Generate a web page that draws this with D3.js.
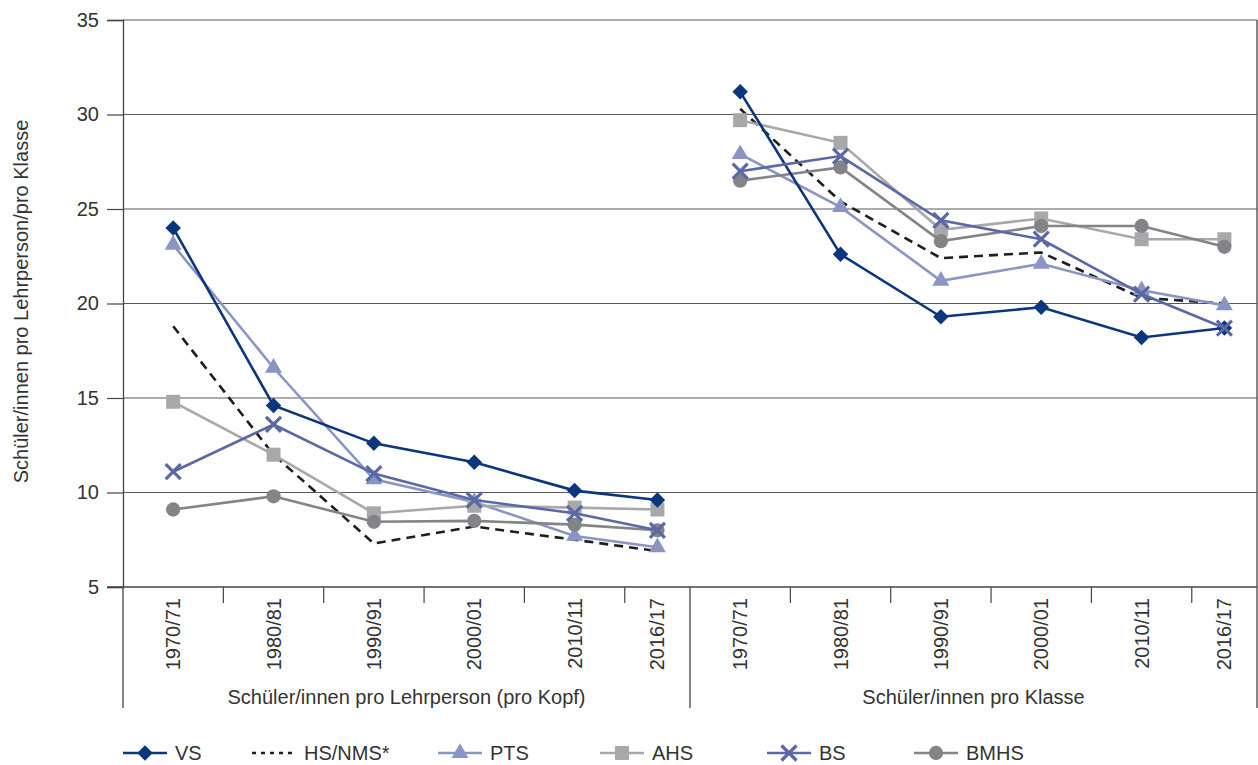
<!DOCTYPE html>
<html>
<head>
<meta charset="utf-8">
<script src="https://cdn.jsdelivr.net/npm/d3@7"></script>
<style>
  body { margin: 0; background: #fff; }
  text { font-family: "Liberation Sans", Arial, sans-serif; fill: #333; }
</style>
</head>
<body>
<div id="chart"></div>
<script>
// categories and groups
const categories = ["1970/71", "1980/81", "1990/91", "2000/01", "2010/11", "2016/17"];
const groups = ["Schüler/innen pro Lehrperson (pro Kopf)", "Schüler/innen pro Klasse"];
const yTicks = [5, 10, 15, 20, 25, 30, 35];

// values: first 6 = per teacher, last 6 = per class
const VS   = [24.0, 14.6, 12.6, 11.6, 10.1, 9.6,  31.2, 22.6, 19.3, 19.8, 18.2, 18.7];
const HS   = [18.8, 12.0, 7.3, 8.2, 7.5, 6.9,     30.3, 25.4, 22.4, 22.7, 20.3, 20.0];
const PTS  = [23.1, 16.6, 10.7, 9.5, 7.7, 7.1,    27.9, 25.1, 21.2, 22.1, 20.7, 19.9];
const AHS  = [14.8, 12.0, 8.9, 9.3, 9.2, 9.1,     29.7, 28.5, 23.9, 24.5, 23.4, 23.4];
const BS   = [11.1, 13.6, 11.0, 9.6, 8.9, 8.0,    27.0, 27.8, 24.4, 23.4, 20.5, 18.7];
const BMHS = [9.1, 9.8, 8.45, 8.5, 8.3, 8.0,      26.5, 27.2, 23.3, 24.1, 24.1, 23.0];

const series = [
  { name: "VS", values: VS, color: "#0b367e", marker: "diamond" },
  { name: "HS/NMS*", values: HS, color: "#1e1e1e", marker: "none", dash: "9,6" },
  { name: "PTS", values: PTS, color: "#8b95c3", marker: "triangle" },
  { name: "AHS", values: AHS, color: "#a7a8aa", marker: "square" },
  { name: "BS", values: BS, color: "#5b68a7", marker: "x" },
  { name: "BMHS", values: BMHS, color: "#838487", marker: "circle" }
];
// drawing order (later on top)
const drawOrder = ["HS/NMS*", "PTS", "AHS", "BMHS", "VS", "BS"];

const W = 1258, H = 765;
const pLeft = 123, pRight = 1257, pTop = 20, pBottom = 587;
const fs = "20px";

const svg = d3.select("#chart").append("svg")
  .attr("width", W).attr("height", H);

// band layout: last category of each group is narrower
const bandW = [1, 1, 1, 1, 1, 0.65];
const groupW = d3.sum(bandW);
const edges = [0];
bandW.forEach(b => edges.push(edges[edges.length - 1] + b));

const xScale = d3.scaleLinear().domain([0, groupW * groups.length]).range([pLeft, pRight]);
const yScale = d3.scaleLinear().domain([5, 35]).range([pBottom, pTop]);

function slot(g, i) { return g * groupW + edges[i] + bandW[i] / 2; }

// gridlines
svg.append("g").selectAll("line").data(yTicks.filter(d => d > 5)).join("line")
  .attr("x1", pLeft).attr("x2", pRight)
  .attr("y1", d => yScale(d)).attr("y2", d => yScale(d))
  .attr("stroke", "#5a5a5a").attr("stroke-width", 1.2);

// y axis
const yAxis = svg.append("g")
  .attr("transform", "translate(" + pLeft + ",0)")
  .call(d3.axisLeft(yScale).tickValues(yTicks).tickSize(16).tickPadding(8));
yAxis.select(".domain").attr("stroke", "#444").attr("stroke-width", 1.3);
yAxis.selectAll(".tick line").attr("stroke", "#444").attr("stroke-width", 1.2);
yAxis.selectAll("text").style("font-size", fs).attr("fill", "#333").attr("font-family", null);

// x axis line + ticks between categories
const xg = svg.append("g");
xg.append("line").attr("x1", pLeft - 16).attr("x2", pRight)
  .attr("y1", pBottom).attr("y2", pBottom)
  .attr("stroke", "#444").attr("stroke-width", 1.3);
groups.forEach((gname, g) => {
  edges.slice(1, -1).forEach(e => {
    xg.append("line")
      .attr("x1", xScale(g * groupW + e)).attr("x2", xScale(g * groupW + e))
      .attr("y1", pBottom).attr("y2", pBottom + 16)
      .attr("stroke", "#444").attr("stroke-width", 1.2);
  });
  categories.forEach((c, i) => {
    xg.append("text")
      .attr("transform", "translate(" + (xScale(slot(g, i)) + 7) + "," + (pBottom + 11) + ") rotate(-90)")
      .attr("text-anchor", "end")
      .style("font-size", fs)
      .text(c);
  });
  xg.append("text")
    .attr("x", xScale(g * groupW + groupW / 2))
    .attr("y", pBottom + 117)
    .attr("text-anchor", "middle")
    .style("font-size", fs)
    .text(gname);
});
// group separators / frame verticals
[0, groupW, groupW * 2].forEach(v => {
  xg.append("line")
    .attr("x1", xScale(v)).attr("x2", xScale(v))
    .attr("y1", v === groupW * 2 ? pTop : pBottom).attr("y2", pBottom + 121)
    .attr("stroke", "#444").attr("stroke-width", 1.3);
});

// y title
svg.append("text")
  .attr("transform", "translate(28," + ((pTop + pBottom) / 2 - 2) + ") rotate(-90)")
  .attr("text-anchor", "middle")
  .style("font-size", fs)
  .text("Schüler/innen pro Lehrperson/pro Klasse");

// markers
function marker(sel, type, color) {
  if (type === "diamond") {
    sel.append("path").attr("d", d3.symbol(d3.symbolSquare, 120)())
      .attr("transform", "rotate(45)").attr("fill", color);
  } else if (type === "triangle") {
    sel.append("path").attr("d", d3.symbol(d3.symbolTriangle, 125)()).attr("fill", color);
  } else if (type === "square") {
    sel.append("path").attr("d", d3.symbol(d3.symbolSquare, 196)()).attr("fill", color);
  } else if (type === "circle") {
    sel.append("path").attr("d", d3.symbol(d3.symbolCircle, 160)()).attr("fill", color);
  } else if (type === "x") {
    sel.append("path").attr("d", "M-7.5,-7.5L7.5,7.5M-7.5,7.5L7.5,-7.5")
      .attr("stroke", color).attr("stroke-width", 3.2).attr("fill", "none");
  }
}

const line = d3.line().x(d => xScale(d.s)).y(d => yScale(d.v));
const plot = svg.append("g");
drawOrder.forEach(name => {
  const s = series.find(d => d.name === name);
  groups.forEach((gname, g) => {
    const pts = categories.map((c, i) => ({ s: slot(g, i), v: s.values[g * 6 + i] }));
    plot.append("path").datum(pts)
      .attr("d", line)
      .attr("fill", "none")
      .attr("stroke", s.color)
      .attr("stroke-width", 2.6)
      .attr("stroke-dasharray", s.dash || null);
    pts.forEach(p => {
      const m = plot.append("g").attr("transform", "translate(" + xScale(p.s) + "," + yScale(p.v) + ")");
      marker(m, s.marker, s.color);
    });
  });
});

// legend
const legendX = [123, 252, 438, 600, 767, 914];
const legendY = 753;
const leg = svg.append("g");
series.forEach((s, i) => {
  const g = leg.append("g").attr("transform", "translate(" + legendX[i] + "," + legendY + ")");
  g.append("line").attr("x1", 0).attr("x2", 44).attr("y1", 0).attr("y2", 0)
    .attr("stroke", s.color).attr("stroke-width", 2.6)
    .attr("stroke-dasharray", s.dash ? "4,5" : null);
  const m = g.append("g").attr("transform", "translate(22,0)");
  marker(m, s.marker, s.color);
  g.append("text").attr("x", 52).attr("y", 7)
    .style("font-size", fs).text(s.name);
});
</script>
</body>
</html>
